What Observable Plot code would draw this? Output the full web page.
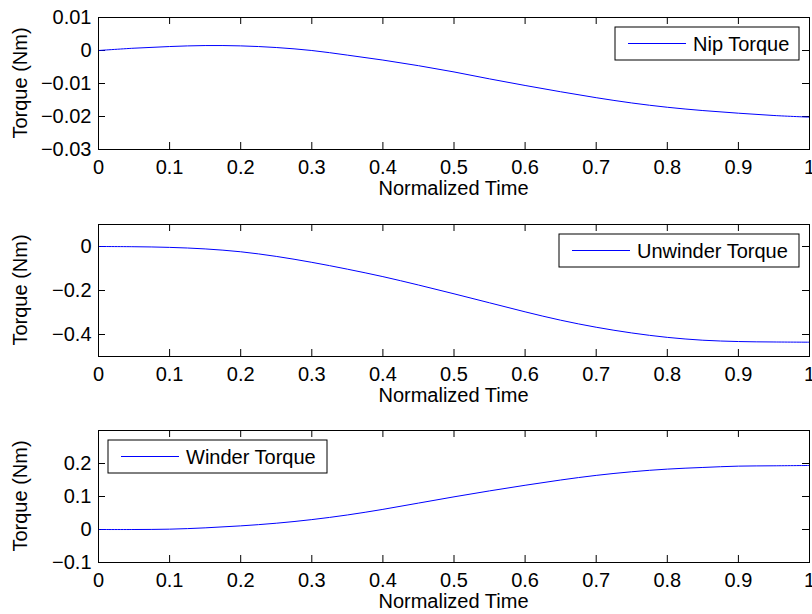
<!DOCTYPE html>
<html>
<head>
<meta charset="utf-8">
<script src="https://cdn.jsdelivr.net/npm/d3@7"></script>
<script src="https://cdn.jsdelivr.net/npm/@observablehq/plot@0.6"></script>
<style>
  html, body { margin: 0; padding: 0; background: #fff; }
  #chart { width: 812px; height: 614px; overflow: hidden; }
  #chart svg { display: block; }
</style>
</head>
<body>
<div id="chart"></div>
<script>
// ---- data ----
const time = [0, 0.05, 0.1, 0.15, 0.2, 0.25, 0.3, 0.35, 0.4, 0.45, 0.5, 0.55, 0.6, 0.65, 0.7, 0.75, 0.8, 0.85, 0.9, 0.95, 1];
const nipTorque = [0, 0.0007, 0.0012, 0.0015, 0.0014, 0.0009, 0.0, -0.0014, -0.0029, -0.0046, -0.0065, -0.0086, -0.0106, -0.0125, -0.0143, -0.0159, -0.0172, -0.0182, -0.019, -0.0197, -0.0202];
const unwinderTorque = [0, -0.001, -0.004, -0.011, -0.024, -0.045, -0.072, -0.103, -0.137, -0.175, -0.215, -0.256, -0.297, -0.335, -0.367, -0.393, -0.413, -0.426, -0.432, -0.434, -0.435];
const winderTorque = [0, 0, 0.001, 0.005, 0.011, 0.019, 0.030, 0.044, 0.061, 0.08, 0.099, 0.117, 0.134, 0.15, 0.164, 0.175, 0.183, 0.188, 0.192, 0.193, 0.194];

const xTicks = [0, 0.1, 0.2, 0.3, 0.4, 0.5, 0.6, 0.7, 0.8, 0.9, 1];
const nipYTicks = [-0.03, -0.02, -0.01, 0, 0.01];
const unwinderYTicks = [-0.4, -0.2, 0];
const winderYTicks = [-0.1, 0, 0.1, 0.2];

const xLabel = "Normalized Time";
const yLabel = "Torque (Nm)";

const FONT = "'Liberation Sans', Arial, Helvetica, sans-serif";
const FS = 20;

function legendMark(label, side, boxW) {
  return (index, scales, values, dims) => {
    const g = d3.create("svg:g");
    const boxH = 33;
    const inset = 10;
    const x0 = side === "right"
      ? dims.width - dims.marginRight - inset - boxW
      : dims.marginLeft + inset;
    const y0 = dims.marginTop + inset;
    g.append("rect")
      .attr("x", x0).attr("y", y0).attr("width", boxW).attr("height", boxH)
      .attr("fill", "white").attr("stroke", "black").attr("stroke-width", 1);
    g.append("line")
      .attr("x1", x0 + 13).attr("x2", x0 + 71)
      .attr("y1", y0 + boxH / 2).attr("y2", y0 + boxH / 2)
      .attr("stroke", "#0000ff").attr("stroke-width", 1);
    g.append("text")
      .attr("x", x0 + 78).attr("y", y0 + boxH / 2)
      .attr("dy", "0.35em")
      .attr("text-anchor", "start")
      .attr("font-family", FONT).attr("font-size", FS)
      .attr("fill", "black")
      .text(label);
    return g.node();
  };
}

function axisLabels(index, scales, values, dims) {
  const g = d3.create("svg:g")
    .attr("font-family", FONT).attr("font-size", FS).attr("fill", "black")
    .attr("text-anchor", "middle");
  const cx = (dims.marginLeft + dims.width - dims.marginRight) / 2;
  const bottom = dims.height - dims.marginBottom;
  const cy = (dims.marginTop + bottom) / 2;
  g.append("text").attr("x", cx).attr("y", bottom + 39).attr("dy", "0.35em").text(xLabel);
  g.append("text")
    .attr("transform", `translate(20,${cy}) rotate(-90)`)
    .attr("dy", "0.35em").text(yLabel);
  return g.node();
}

function panel({values, yDomain, yTicks, yFmt, label, side, boxW, height, marginBottom}) {
  const data = time.map((t, i) => ({t, v: values[i]}));
  const plotH = 132;
  const plotW = 812 - 98 - 3;
  return Plot.plot({
    width: 812,
    height,
    marginLeft: 98,
    marginRight: 3,
    marginTop: 17,
    marginBottom,
    style: {fontFamily: FONT, fontSize: FS + "px", background: "white", color: "black", overflow: "visible"},
    x: {domain: [0, 1], ticks: xTicks, tickSize: 0, tickPadding: 10, label: null, tickFormat: d3.format("")},
    y: {domain: yDomain, ticks: yTicks, tickSize: 0, tickPadding: 7, label: null, tickFormat: yFmt},
    marks: [
      // inward ticks on all four sides
      Plot.tickX(xTicks, {x: d => d, insetTop: plotH - 7, stroke: "black"}),
      Plot.tickX(xTicks, {x: d => d, insetBottom: plotH - 7, stroke: "black"}),
      Plot.tickY(yTicks, {y: d => d, insetRight: plotW - 7, stroke: "black"}),
      Plot.tickY(yTicks, {y: d => d, insetLeft: plotW - 7, stroke: "black"}),
      Plot.line(data, {x: "t", y: "v", stroke: "#0000ff", strokeWidth: 1, curve: "catmull-rom"}),
      Plot.frame({stroke: "black", strokeWidth: 1}),
      legendMark(label, side, boxW),
      axisLabels
    ]
  });
}

const fmtMinus = f => d => f(d).replace("-", "\u2212");
const chart = document.getElementById("chart");
chart.append(panel({
  values: nipTorque, yDomain: [-0.03, 0.01], yTicks: nipYTicks,
  yFmt: d => d === 0 ? "0" : fmtMinus(d3.format(".2f"))(d),
  label: "Nip Torque", side: "right", boxW: 184, height: 207, marginBottom: 58
}));
chart.append(panel({
  values: unwinderTorque, yDomain: [-0.5, 0.1], yTicks: unwinderYTicks,
  yFmt: d => d === 0 ? "0" : fmtMinus(d3.format(".1f"))(d),
  label: "Unwinder Torque", side: "right", boxW: 240, height: 206, marginBottom: 57
}));
chart.append(panel({
  values: winderTorque, yDomain: [-0.1, 0.3], yTicks: winderYTicks,
  yFmt: d => d === 0 ? "0" : fmtMinus(d3.format(".1f"))(d),
  label: "Winder Torque", side: "left", boxW: 219, height: 201, marginBottom: 52
}));
</script>
</body>
</html>
